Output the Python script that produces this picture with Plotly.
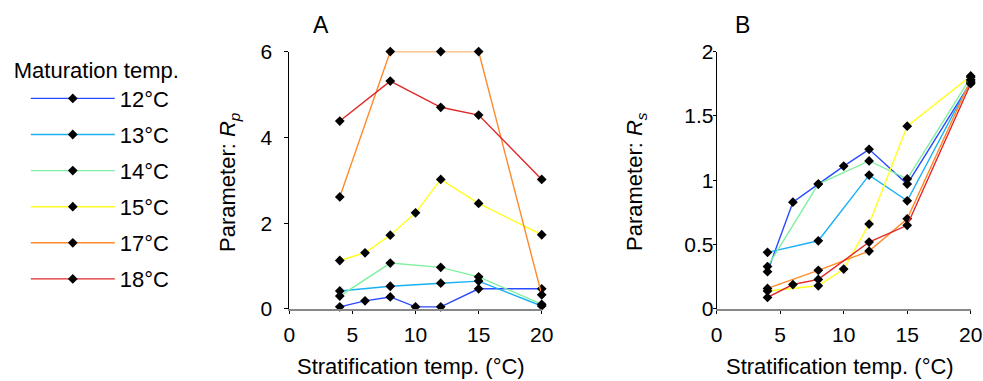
import plotly.graph_objects as go

# ---------------- data ----------------
series_names = ["12°C", "13°C", "14°C", "15°C", "17°C", "18°C"]
series_colors = ["#2a4bff", "#1ab0f5", "#80f0a0", "#ffff20", "#ff8a2a", "#e02828"]

# Panel A: Parameter R_p
a_x_12 = [4, 6, 8, 10, 12, 15, 20]
a_y_12 = [0.05, 0.19, 0.28, 0.05, 0.05, 0.47, 0.47]
a_x_13 = [4, 8, 12, 15, 20]
a_y_13 = [0.42, 0.53, 0.60, 0.65, 0.07]
a_x_14 = [4, 8, 12, 15, 20]
a_y_14 = [0.30, 1.07, 0.97, 0.75, 0.11]
a_x_15 = [4, 6, 8, 10, 12, 15, 20]
a_y_15 = [1.13, 1.31, 1.72, 2.24, 3.02, 2.46, 1.73]
a_x_17 = [4, 8, 12, 15, 20]
a_y_17 = [2.61, 6.0, 6.0, 6.0, 0.33]
a_x_18 = [4, 8, 12, 15, 20]
a_y_18 = [4.38, 5.31, 4.70, 4.52, 3.02]

# Panel B: Parameter R_s
b_x_12 = [4, 6, 8, 10, 12, 15, 20]
b_y_12 = [0.29, 0.83, 0.97, 1.11, 1.24, 0.97, 1.76]
b_x_13 = [4, 8, 12, 15, 20]
b_y_13 = [0.44, 0.53, 1.04, 0.84, 1.77]
b_x_14 = [4, 8, 12, 15, 20]
b_y_14 = [0.33, 0.97, 1.15, 1.01, 1.80]
b_x_15 = [4, 8, 10, 12, 15, 20]
b_y_15 = [0.14, 0.18, 0.31, 0.66, 1.42, 1.81]
b_x_17 = [4, 8, 12, 15, 20]
b_y_17 = [0.16, 0.30, 0.45, 0.70, 1.78]
b_x_18 = [4, 6, 8, 12, 15, 20]
b_y_18 = [0.09, 0.19, 0.23, 0.52, 0.65, 1.75]

x_ticks = [0, 5, 10, 15, 20]
a_y_ticks = [0, 2, 4, 6]
b_y_ticks = [0, 0.5, 1, 1.5, 2]

panel_a = [(a_x_12, a_y_12), (a_x_13, a_y_13), (a_x_14, a_y_14),
           (a_x_15, a_y_15), (a_x_17, a_y_17), (a_x_18, a_y_18)]
panel_b = [(b_x_12, b_y_12), (b_x_13, b_y_13), (b_x_14, b_y_14),
           (b_x_15, b_y_15), (b_x_17, b_y_17), (b_x_18, b_y_18)]

FONT = "Liberation Sans, Arial, sans-serif"

fig = go.Figure()
for i, name in enumerate(series_names):
    ax, ay = panel_a[i]
    bx, by = panel_b[i]
    common = dict(mode="lines+markers",
                  line=dict(color=series_colors[i], width=1.4),
                  marker=dict(symbol="diamond", size=7.5, color="black"),
                  cliponaxis=False, legendgroup=name, name=name)
    fig.add_trace(go.Scatter(x=ax, y=ay, xaxis="x", yaxis="y",
                             showlegend=True, **common))
    fig.add_trace(go.Scatter(x=bx, y=by, xaxis="x2", yaxis="y2",
                             showlegend=False, **common))

xcommon = dict(range=[0, 20], tickvals=x_ticks, showline=True, linecolor="#888888",
               linewidth=2, ticks="outside", ticklen=3, tickcolor="black",
               showgrid=False, zeroline=False, tickfont=dict(size=21, color="black"),
               ticklabelstandoff=3, automargin=False)
ycommon = dict(showline=True, linecolor="black", linewidth=1, ticks="outside",
               tickcolor="black", showgrid=False, zeroline=False,
               tickfont=dict(size=21, color="black"), automargin=False)

fig.update_layout(
    width=983, height=381,
    margin=dict(l=0, r=0, t=0, b=0, autoexpand=False),
    paper_bgcolor="white", plot_bgcolor="white",
    font=dict(family=FONT, size=22, color="black"),
    xaxis=dict(domain=[0.2943, 0.5511], anchor="y", **xcommon),
    yaxis=dict(domain=[0.189, 0.8648], anchor="x", range=[0, 6], tickvals=a_y_ticks,
               ticklen=4, ticklabelstandoff=8, **ycommon),
    xaxis2=dict(domain=[0.7291, 0.9875], anchor="y2", **xcommon),
    yaxis2=dict(domain=[0.189, 0.8648], anchor="x2", range=[0, 2], tickvals=b_y_ticks,
                ticklen=3, ticklabelstandoff=-5, **ycommon),
    legend=dict(x=0.012, y=1 - 49 / 381, xanchor="left", yanchor="top",
                font=dict(size=22), tracegroupgap=4.5, itemwidth=84,
                indentation=14,
                title=dict(text="Maturation temp.", font=dict(size=22)),
                bgcolor="rgba(0,0,0,0)"),
    showlegend=True,
    annotations=[
        dict(text="A", x=321 / 983, y=1 - 25.5 / 381, xref="paper", yref="paper",
             showarrow=False, font=dict(size=23), xanchor="center", yanchor="middle"),
        dict(text="B", x=742 / 983, y=1 - 25.5 / 381, xref="paper", yref="paper",
             showarrow=False, font=dict(size=23), xanchor="center", yanchor="middle"),
        dict(text="Stratification temp. (°C)", x=411 / 983, y=1 - 366 / 381,
             xref="paper", yref="paper", showarrow=False, font=dict(size=22),
             xanchor="center", yanchor="middle"),
        dict(text="Stratification temp. (°C)", x=840 / 983, y=1 - 366 / 381,
             xref="paper", yref="paper", showarrow=False, font=dict(size=22),
             xanchor="center", yanchor="middle"),
        dict(text="Parameter: <i>R</i><sub><i>p</i></sub>", x=229 / 983, y=1 - 182 / 381,
             xref="paper", yref="paper", showarrow=False, font=dict(size=22),
             textangle=-90, xanchor="center", yanchor="middle"),
        dict(text="Parameter: <i>R</i><sub><i>s</i></sub>", x=636 / 983, y=1 - 182 / 381,
             xref="paper", yref="paper", showarrow=False, font=dict(size=22),
             textangle=-90, xanchor="center", yanchor="middle"),
    ],
)

fig.write_html("out.html")
